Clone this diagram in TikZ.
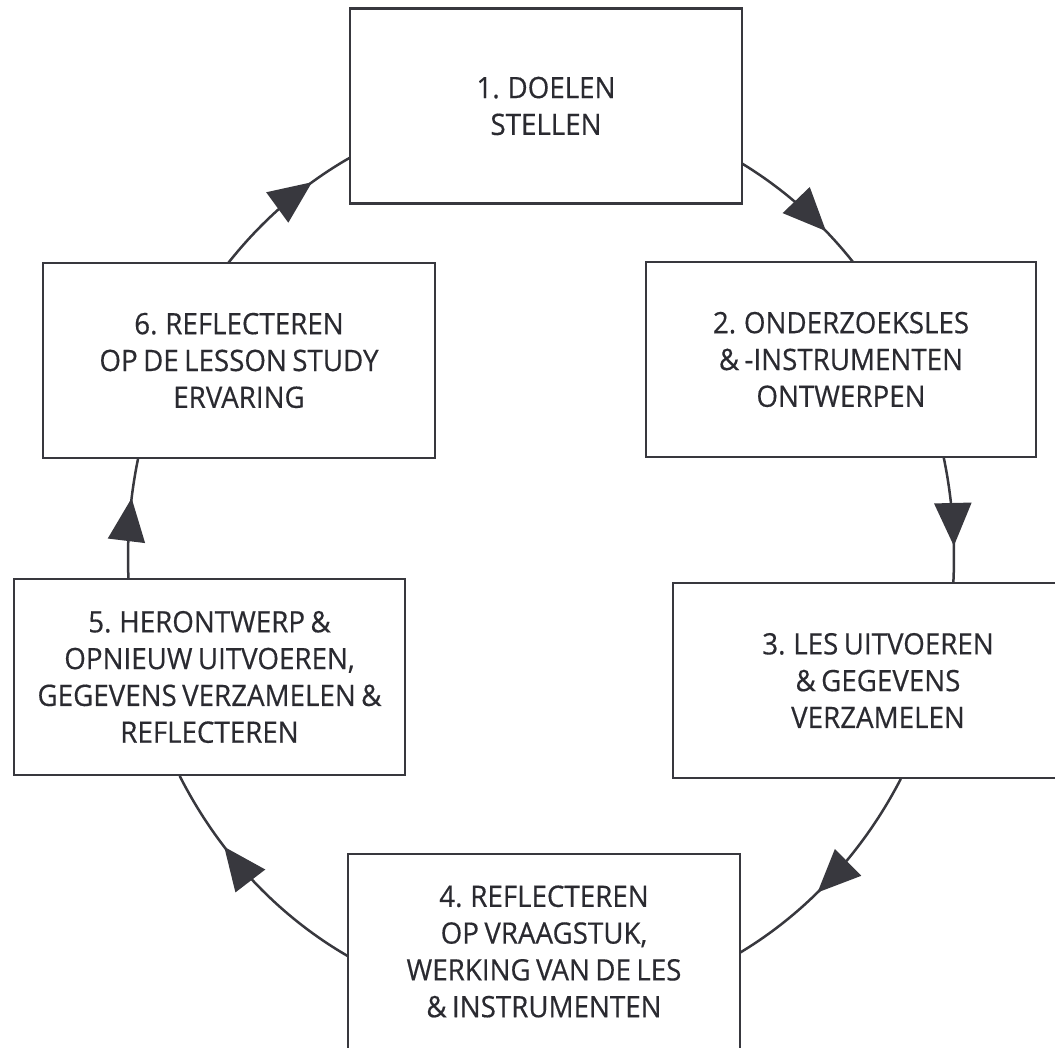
\documentclass[tikz,border=0pt]{standalone}
\usepackage{fontspec}
\setmainfont{Open Sans}[FakeStretch=0.94, WordSpace=0.75, FakeBold=0.4]
\usetikzlibrary{arrows.meta,decorations.markings,backgrounds}
\definecolor{lc}{HTML}{38383E}
\definecolor{tc}{HTML}{2A2A30}
\begin{document}
\begin{tikzpicture}[x=1pt,y=1pt,
  box/.style={draw=lc, line width=2.8pt, fill=white, minimum width=392pt,
    minimum height=195pt, align=center, text=tc, inner sep=0pt,
    font=\fontsize{29.5}{36.8}\selectfont},
  conn/.style={draw=lc, color=lc, line width=2.5pt, x radius=413pt, y radius=451pt},
  tipmark/.style={postaction=decorate, decoration={markings,
    mark=at position #1 with {\arrow{Triangle[length=43pt,width=37pt]}}}}
]
\useasboundingbox (0,0) rectangle (1055,1048);
\clip (0,0) rectangle (1055,1048);
\coordinate (c) at (541,490.5);

\node[box] (b1) at (546,942) {1. DOELEN\\STELLEN};
\node[box, minimum width=390pt] (b2) at (841,688.5) {2. ONDERZOEKSLES\\\& -INSTRUMENTEN\\ONTWERPEN};
\node[box, minimum width=410pt] (b3) at (878,367.5) {3. LES UITVOEREN\\\& GEGEVENS\\VERZAMELEN};
\node[box] (b4) at (544,96.5) {4. REFLECTEREN\\OP VRAAGSTUK,\\WERKING VAN DE LES\\\& INSTRUMENTEN};
\node[box, minimum width=391pt, minimum height=196pt] (b5) at (209.5,371) {5. HERONTWERP \&\\OPNIEUW UITVOEREN,\\GEGEVENS VERZAMELEN \&\\REFLECTEREN};
\node[box] (b6) at (239,687.5) {6. REFLECTEREN\\OP DE LESSON STUDY\\ERVARING};

\coordinate (s12) at ([shift={(60.9:413pt and 451pt)}]c);
\coordinate (s23) at ([shift={(12.75:413pt and 451pt)}]c);
\coordinate (s34) at ([shift={(-29.41:413pt and 451pt)}]c);
\coordinate (s45) at ([shift={(-117.86:413pt and 451pt)}]c);
\coordinate (s56) at ([shift={(182.86:413pt and 451pt)}]c);
\coordinate (s61) at ([shift={(139.4:413pt and 451pt)}]c);

\begin{scope}[on background layer]
\draw[conn, tipmark=0.72] (s12) arc[start angle=60.9, end angle=40.8];
\draw[conn, tipmark=0.70] (s23) arc[start angle=12.75, end angle=-3.37];
\draw[conn, tipmark=0.59] (s34) arc[start angle=-29.41, end angle=-61.2];
\draw[conn, tipmark=0.665] (s45) arc[start angle=-117.86, end angle=-151.02];
\draw[conn, tipmark=0.674] (s56) arc[start angle=182.86, end angle=167.38];
\draw[conn, tipmark=0.723] (s61) arc[start angle=139.4, end angle=117.55];
\end{scope}
\end{tikzpicture}
\end{document}
